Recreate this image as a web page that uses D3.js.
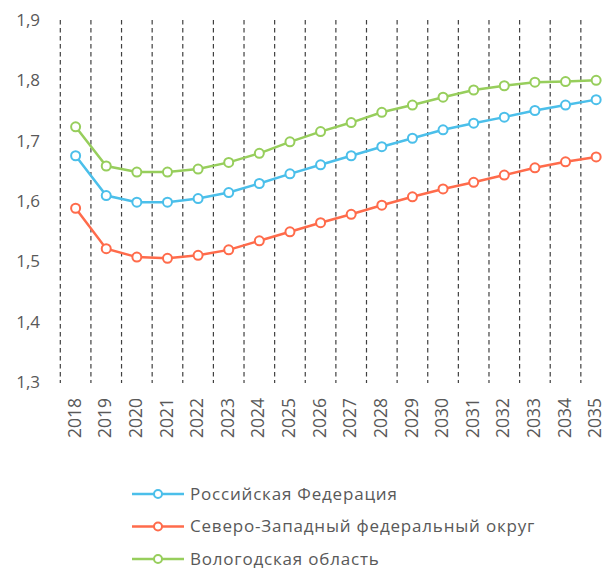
<!DOCTYPE html>
<html>
<head>
<meta charset="utf-8">
<script src="https://cdn.jsdelivr.net/npm/d3@7"></script>
<style>
    body { margin: 0; background: #fff; }
    svg text { font-family: "Open Sans", "Noto Sans", sans-serif; fill: #595959; }
</style>
</head>
<body>
<div id="chart"></div>
<script>
const years = ["2018", "2019", "2020", "2021", "2022", "2023", "2024", "2025", "2026",
    "2027", "2028", "2029", "2030", "2031", "2032", "2033", "2034", "2035"];

const russia = [1.675, 1.609, 1.598, 1.598, 1.604, 1.614, 1.629, 1.645, 1.660,
    1.675, 1.690, 1.704, 1.718, 1.729, 1.739, 1.750, 1.759, 1.768];
const northWest = [1.588, 1.521, 1.507, 1.505, 1.510, 1.519, 1.534, 1.549, 1.564,
    1.578, 1.593, 1.607, 1.620, 1.631, 1.643, 1.655, 1.665, 1.673];
const vologda = [1.723, 1.658, 1.648, 1.648, 1.653, 1.664, 1.679, 1.698, 1.715,
    1.730, 1.747, 1.759, 1.772, 1.784, 1.791, 1.797, 1.798, 1.800];

const seriesNames = ["Российская Федерация", "Северо-Западный федеральный округ", "Вологодская область"];
const seriesColors = ["#4BBFEA", "#FF6B4B", "#97CE5C"];
const yTicks = [1.3, 1.4, 1.5, 1.6, 1.7, 1.8, 1.9];

const width = 605, height = 570;
const plotLeft = 60.3, plotTop = 20, plotBottom = 382;
const bandW = 30.62;

const svg = d3.select("#chart").append("svg")
    .attr("width", width)
    .attr("height", height);

const x = d3.scaleBand()
    .domain(years)
    .range([plotLeft, plotLeft + bandW * years.length]);

const y = d3.scaleLinear()
    .domain([1.3, 1.9])
    .range([plotBottom, plotTop]);

// vertical dashed lines between categories
const grid = svg.append("g");
grid.selectAll("line")
    .data(years.concat(["end"]))
    .enter()
    .append("line")
    .attr("x1", (d, i) => plotLeft + i * x.step())
    .attr("x2", (d, i) => plotLeft + i * x.step())
    .attr("y1", plotTop)
    .attr("y2", plotBottom + 1)
    .attr("stroke", "#404040")
    .attr("stroke-width", 1.2)
    .attr("stroke-dasharray", "4.5,3.5");

// y axis labels
const yAxis = svg.append("g")
    .attr("transform", "translate(40,0)")
    .call(d3.axisLeft(y).tickValues(yTicks).tickSize(0).tickPadding(0)
        .tickFormat(d => d3.format(".1f")(d).replace(".", ",")));
yAxis.select(".domain").remove();
yAxis.selectAll("text")
    .style("font-size", "17px");

// x axis labels, rotated
const xAxis = svg.append("g")
    .attr("transform", `translate(0,${plotBottom})`)
    .call(d3.axisBottom(x).tickSize(0).tickPadding(0));
xAxis.select(".domain").remove();
xAxis.selectAll("text")
    .style("font-size", "17.5px")
    .attr("text-anchor", "end")
    .attr("transform", "rotate(-90)")
    .attr("x", -16)
    .attr("y", -1)
    .attr("dy", "0.35em");

const allSeries = [russia, northWest, vologda];

const line = d3.line()
    .x((d, i) => x(years[i]) + x.bandwidth() / 2)
    .y(d => y(d));

allSeries.forEach((values, k) => {
    const g = svg.append("g");
    g.append("path")
        .datum(values)
        .attr("d", line)
        .attr("fill", "none")
        .attr("stroke", seriesColors[k])
        .attr("stroke-width", 2.5);
    g.selectAll("circle")
        .data(values)
        .enter()
        .append("circle")
        .attr("cx", (d, i) => x(years[i]) + x.bandwidth() / 2)
        .attr("cy", d => y(d))
        .attr("r", 4.5)
        .attr("fill", "#fff")
        .attr("stroke", seriesColors[k])
        .attr("stroke-width", 2);
});

// legend
const legend = svg.append("g")
    .selectAll("g")
    .data(seriesNames)
    .enter()
    .append("g")
    .attr("transform", (d, i) => `translate(132,${494 + i * 32.5})`);

legend.append("line")
    .attr("x1", 0).attr("x2", 52)
    .attr("stroke", (d, i) => seriesColors[i])
    .attr("stroke-width", 2.5);
legend.append("circle")
    .attr("cx", 26)
    .attr("r", 4)
    .attr("fill", "#fff")
    .attr("stroke", (d, i) => seriesColors[i])
    .attr("stroke-width", 2);
legend.append("text")
    .attr("x", 58)
    .attr("dy", "0.35em")
    .style("font-size", "17px")
    .style("letter-spacing", "0.8px")
    .text(d => d);
</script>
</body>
</html>
